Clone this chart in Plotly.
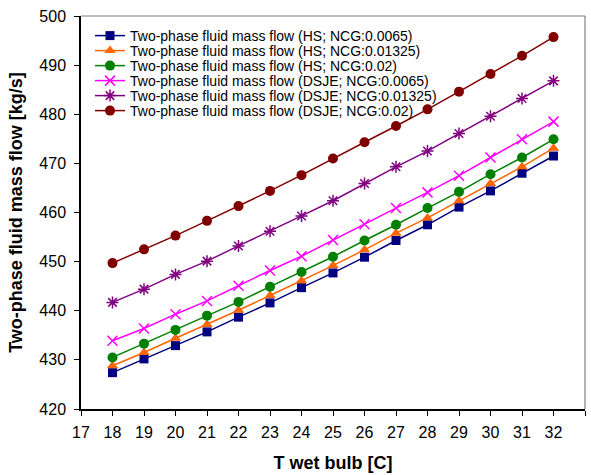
import plotly.graph_objects as go

t_wet = [18, 19, 20, 21, 22, 23, 24, 25, 26, 27, 28, 29, 30, 31, 32]

hs_0065 = [427.4, 430.2, 432.9, 435.7, 438.7, 441.6, 444.7, 447.7, 450.9, 454.3, 457.5, 461.1, 464.4, 468.0, 471.5]
hs_01325 = [428.8, 431.5, 434.4, 437.2, 440.1, 443.1, 446.1, 449.2, 452.4, 455.8, 458.9, 462.4, 465.9, 469.3, 473.1]
hs_02 = [430.5, 433.3, 436.1, 439.0, 441.8, 444.9, 447.9, 451.0, 454.3, 457.5, 460.9, 464.2, 467.8, 471.2, 474.9]
dsje_0065 = [433.9, 436.4, 439.3, 442.0, 445.1, 448.2, 451.1, 454.4, 457.6, 460.9, 464.1, 467.5, 471.2, 474.9, 478.5]
dsje_01325 = [441.7, 444.4, 447.4, 450.1, 453.2, 456.2, 459.3, 462.4, 465.9, 469.3, 472.5, 476.1, 479.6, 483.2, 486.8]
dsje_02 = [449.7, 452.5, 455.3, 458.3, 461.3, 464.4, 467.6, 471.0, 474.3, 477.6, 481.0, 484.6, 488.2, 491.9, 495.7]

names = [
    "Two-phase fluid mass flow (HS; NCG:0.0065)",
    "Two-phase fluid mass flow (HS; NCG:0.01325)",
    "Two-phase fluid mass flow (HS; NCG:0.02)",
    "Two-phase fluid mass flow (DSJE; NCG:0.0065)",
    "Two-phase fluid mass flow (DSJE; NCG:0.01325)",
    "Two-phase fluid mass flow (DSJE; NCG:0.02)",
]
series = [hs_0065, hs_01325, hs_02, dsje_0065, dsje_01325, dsje_02]
colors = ["#000080", "#FF6600", "#008000", "#FF00FF", "#800080", "#800000"]
symbols = ["square", "triangle-up", "circle", "x-thin-open", "asterisk-open", "circle"]
sizes = [9, 10, 10, 10, 10, 10]

FONT = "Liberation Sans, Arial, sans-serif"

# plot area geometry (px) used to place the six one-entry legends 15 px apart
PLOT_TOP, PLOT_H, PLOT_L, PLOT_W = 16, 393, 81, 504
LEG_FIRST_Y, LEG_STEP, LEG_TEXT_X = 36, 15, 131

fig = go.Figure()
legends = {}
for i, (name, ys, c, s, sz) in enumerate(zip(names, series, colors, symbols, sizes)):
    open_sym = s.endswith("open")
    key = "legend" if i == 0 else f"legend{i + 1}"
    fig.add_trace(go.Scatter(
        x=t_wet, y=ys, name=name, mode="lines+markers",
        legend=key,
        line=dict(color=c, width=1.5),
        marker=dict(symbol=s, size=sz, color=c,
                    line=dict(color=c, width=1.5 if open_sym else 0)),
    ))
    py = LEG_FIRST_Y + i * LEG_STEP
    legends[key] = dict(
        x=(LEG_TEXT_X - 41 - PLOT_L) / PLOT_W,
        y=1 - (py - PLOT_TOP) / PLOT_H,
        xanchor="left", yanchor="middle",
        bgcolor="rgba(0,0,0,0)", borderwidth=0,
        font=dict(family=FONT, size=14, color="black"),
    )

tickfont = dict(family=FONT, size=16, color="black")
titlefont = dict(family=FONT, size=18, color="black")

fig.update_layout(
    width=591, height=475,
    margin=dict(l=81, r=6, t=16, b=66),
    paper_bgcolor="white", plot_bgcolor="white",
    showlegend=True,
    xaxis=dict(range=[17, 33], dtick=1, tick0=17, showgrid=False, zeroline=False,
               showline=True, linecolor="black", linewidth=1.5,
               ticks="outside", ticklen=5, tickcolor="black", tickfont=tickfont,
               ticklabelstandoff=3,
               title=dict(text="<b>T wet bulb [C]</b>", font=titlefont, standoff=16)),
    yaxis=dict(range=[420, 500], dtick=10, showgrid=False, zeroline=False,
               showline=True, linecolor="black", linewidth=1.5,
               ticks="outside", ticklen=5, tickcolor="black", tickfont=tickfont,
               ticklabelstandoff=5,
               title=dict(text="<b>Two-phase fluid mass flow [kg/s]</b>", font=titlefont, standoff=12)),
    shapes=[
        dict(type="line", xref="paper", yref="paper", x0=0, x1=1, y0=1, y1=1,
             line=dict(color="#808080", width=1.2)),
        dict(type="line", xref="paper", yref="paper", x0=1, x1=1, y0=0, y1=1,
             line=dict(color="#808080", width=1.2)),
    ],
    **legends,
)

fig.write_html("out.html")
